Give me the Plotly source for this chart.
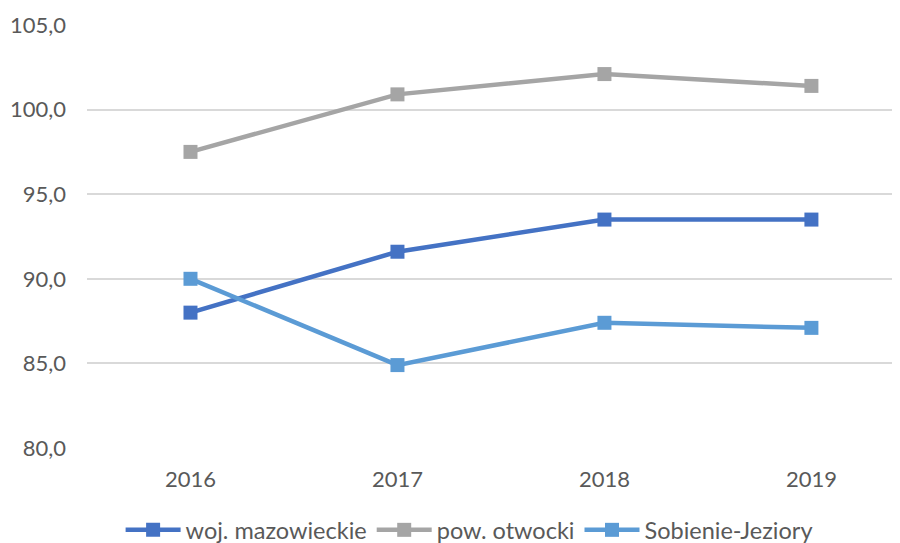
import plotly.graph_objects as go

years = ["2016", "2017", "2018", "2019"]
woj_mazowieckie = [88.0, 91.6, 93.5, 93.5]
pow_otwocki = [97.5, 100.9, 102.1, 101.4]
sobienie_jeziory = [90.0, 84.9, 87.4, 87.1]
series_names = ["woj. mazowieckie", "pow. otwocki", "Sobienie-Jeziory"]
colors = ["#4472C4", "#A5A5A5", "#5B9BD5"]
y_ticks = [80, 85, 90, 95, 100, 105]

fig = go.Figure()
for name, vals, col in zip(series_names, [woj_mazowieckie, pow_otwocki, sobienie_jeziory], colors):
    fig.add_trace(go.Scatter(
        x=years, y=vals, name=name, mode="lines+markers",
        line=dict(color=col, width=4.5),
        marker=dict(symbol="square", size=14, color=col),
    ))

font = "Lato, 'Open Sans', sans-serif"
fig.update_layout(
    width=892, height=535,
    margin=dict(l=79, r=0, t=17, b=95, autoexpand=False),
    plot_bgcolor="white", paper_bgcolor="white",
    separators=", ",
    font=dict(family=font, size=22, color="#595959"),
    xaxis=dict(type="category", range=[-0.5, 3.428], showgrid=False, showline=False,
               zeroline=False, ticks="", ticklabelstandoff=16, automargin=False),
    yaxis=dict(range=[80, 105], tickvals=y_ticks, tickformat=".1f", showgrid=True,
               gridcolor="#D9D9D9", gridwidth=1.5, zeroline=False, showline=False,
               ticks="", ticklabelstandoff=20, automargin=False),
    legend=dict(orientation="h", x=0.47, xanchor="center", y=-0.194, yanchor="middle",
                itemwidth=55, font=dict(size=23.5, color="#595959")),
    showlegend=True,
)
fig.write_html("out.html")
